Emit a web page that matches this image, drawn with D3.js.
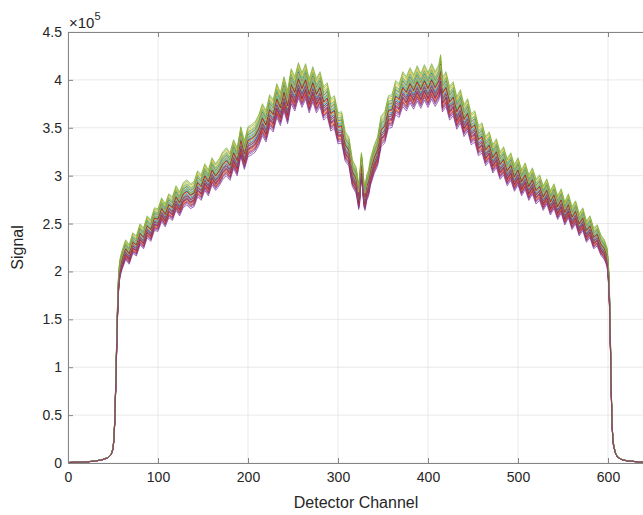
<!DOCTYPE html>
<html>
<head>
<meta charset="utf-8">
<script src="https://cdn.jsdelivr.net/npm/d3@7"></script>
<style>
  body { margin: 0; background: #fff; }
  svg { font-family: "Liberation Sans", Arial, sans-serif; }
  .grid line { stroke: #e3e3e3; stroke-width: 0.8; }
  .axis path, .axis line { stroke: #858585; }
  .axis text { fill: #262626; font-size: 14px; }
</style>
</head>
<body>
<svg width="643" height="515"></svg>
<script>
// detector channel positions where the mean profile was read (x)
const channels = [
  0, 10, 20, 30, 38, 44, 48, 50, 51, 52, 53, 54, 55, 56, 57, 58,
  60, 64, 68, 72, 76, 80, 84, 88, 92, 96, 100, 104, 108, 112, 116, 120,
  124, 128, 132, 136, 140, 144, 148, 152, 156, 160, 164, 168, 172, 176, 180, 184,
  188, 192, 196, 200, 204, 208, 212, 216, 220, 224, 228, 232, 236, 240, 244, 248,
  252, 256, 260, 264, 268, 272, 276, 280, 284, 288, 292, 296, 300, 304, 308, 312,
  316, 320, 322, 323, 324, 325, 326, 327, 328, 329, 330, 332, 334, 336, 340, 344,
  348, 352, 356, 360, 364, 368, 372, 376, 380, 384, 388, 392, 396, 400, 404, 408,
  412, 414, 416, 420, 424, 428, 432, 436, 440, 444, 448, 452, 456, 460, 464, 468,
  472, 476, 480, 484, 488, 492, 496, 500, 504, 508, 512, 516, 520, 524, 528, 532,
  536, 540, 544, 548, 552, 556, 560, 564, 568, 572, 576, 580, 584, 588, 592, 596,
  599, 600, 601, 602, 603, 604, 605, 606, 608, 610, 614, 620, 630, 640
];

// mean signal (x1e5) at those channels
const meanSignal = [
  0.005, 0.008, 0.012, 0.02, 0.035, 0.055, 0.09, 0.15, 0.25, 0.45, 0.80, 1.20, 1.58, 1.85, 1.98, 2.05,
  2.12, 2.23, 2.18, 2.30, 2.27, 2.39, 2.35, 2.47, 2.43, 2.55, 2.54, 2.65, 2.59, 2.69, 2.66, 2.77,
  2.71, 2.80, 2.83, 2.79, 2.81, 2.92, 2.88, 2.99, 2.93, 3.05, 2.99, 3.04, 3.11, 3.15, 3.10, 3.23,
  3.15, 3.36, 3.22, 3.36, 3.38, 3.41, 3.48, 3.59, 3.52, 3.68, 3.63, 3.79, 3.70, 3.86, 3.72, 3.94,
  3.86, 4.00, 3.90, 3.99, 3.84, 3.96, 3.84, 3.91, 3.76, 3.80, 3.64, 3.67, 3.50, 3.51, 3.31, 3.26,
  3.03, 2.96, 2.85, 2.78, 2.84, 3.00, 3.10, 3.04, 2.90, 2.80, 2.77, 2.88, 2.93, 3.04, 3.17, 3.26,
  3.47, 3.51, 3.67, 3.68, 3.82, 3.79, 3.91, 3.86, 3.95, 3.88, 3.97, 3.89, 3.98, 3.90, 3.99, 3.91,
  3.98, 4.08, 3.85, 3.91, 3.76, 3.81, 3.66, 3.73, 3.58, 3.64, 3.49, 3.52, 3.37, 3.40, 3.26, 3.31,
  3.18, 3.24, 3.11, 3.16, 3.04, 3.10, 2.98, 3.05, 2.93, 3.00, 2.88, 2.95, 2.84, 2.88, 2.77, 2.84,
  2.72, 2.79, 2.67, 2.74, 2.61, 2.69, 2.56, 2.62, 2.49, 2.55, 2.42, 2.47, 2.35, 2.38, 2.28, 2.23,
  2.15, 2.05, 1.90, 1.60, 1.10, 0.60, 0.32, 0.20, 0.11, 0.07, 0.04, 0.025, 0.015, 0.01
];

// relative level of each recorded scan against the mean profile
const seriesScale = [
  1.012, 0.990, 1.025, 0.962, 1.040, 1.005, 0.972,
  0.995, 0.975, 1.010, 0.975, 1.022, 1.028, 0.990,
  1.004, 1.000, 1.035, 0.952, 1.030, 0.992, 0.965,
  0.985, 0.968, 0.998, 0.985, 1.008, 1.015, 1.002,
  1.020, 0.983, 1.018, 0.958, 1.045, 0.980, 0.978
];

const colors = ["#0072BD", "#D95319", "#EDB120", "#7E2F8E", "#77AC30", "#4DBEEE", "#A2142F"];
const xTicks = [0, 100, 200, 300, 400, 500, 600];
const yTicks = [0, 0.5, 1, 1.5, 2, 2.5, 3, 3.5, 4, 4.5];

const series = seriesScale.map(s => channels.map((c, j) => ({ x: c, y: meanSignal[j] * s * 1e5 })));

const svg = d3.select("svg");
const mLeft = 68, mRight = 644, mTop = 32, mBottom = 463;

const x = d3.scaleLinear().domain([0, 640]).range([mLeft, mRight]);
const y = d3.scaleLinear().domain([0, 4.5e5]).range([mBottom, mTop]);

// grid
const grid = svg.append("g").attr("class", "grid");
grid.selectAll(".gx").data(xTicks).enter().append("line")
  .attr("x1", d => x(d)).attr("x2", d => x(d))
  .attr("y1", mTop).attr("y2", mBottom);
grid.selectAll(".gy").data(yTicks).enter().append("line")
  .attr("x1", mLeft).attr("x2", mRight)
  .attr("y1", d => y(d * 1e5)).attr("y2", d => y(d * 1e5));

// lines
const line = d3.line().x(d => x(d.x)).y(d => y(d.y));
svg.append("g")
  .selectAll("path")
  .data(series)
  .enter().append("path")
  .attr("fill", "none")
  .attr("stroke", (d, i) => colors[i % colors.length])
  .attr("stroke-width", 0.7)
  .attr("d", line);

// axes (ticks point inward like MATLAB)
svg.append("g").attr("class", "axis")
  .attr("transform", `translate(0,${mBottom})`)
  .call(d3.axisBottom(x).tickValues(xTicks).tickSize(-5).tickPadding(9).tickSizeOuter(0))
  .selectAll("text").attr("dy", "0.71em");

svg.append("g").attr("class", "axis")
  .attr("transform", `translate(0,${mTop})`)
  .call(d3.axisTop(x).tickValues(xTicks).tickSize(-5).tickSizeOuter(0))
  .selectAll("text").remove();

svg.append("g").attr("class", "axis")
  .attr("transform", `translate(${mLeft},0)`)
  .call(d3.axisLeft(y).tickValues(yTicks.map(v => v * 1e5)).tickSize(-5).tickPadding(6).tickSizeOuter(0)
    .tickFormat(d => d3.format("~g")(d / 1e5)));

svg.selectAll(".axis .domain").attr("stroke", "#858585");

// labels
svg.append("text")
  .attr("x", x(320)).attr("y", 508)
  .attr("text-anchor", "middle")
  .attr("font-size", 16).attr("fill", "#262626")
  .text("Detector Channel");

svg.append("text")
  .attr("transform", `translate(23,${(mTop + mBottom) / 2}) rotate(-90)`)
  .attr("text-anchor", "middle")
  .attr("font-size", 16).attr("fill", "#262626")
  .text("Signal");

const expo = svg.append("text")
  .attr("x", 69).attr("y", 28)
  .attr("font-size", 15).attr("fill", "#262626");
expo.append("tspan").text("×10");
expo.append("tspan").attr("dy", -8).attr("font-size", 11).text("5");
</script>
</body>
</html>
